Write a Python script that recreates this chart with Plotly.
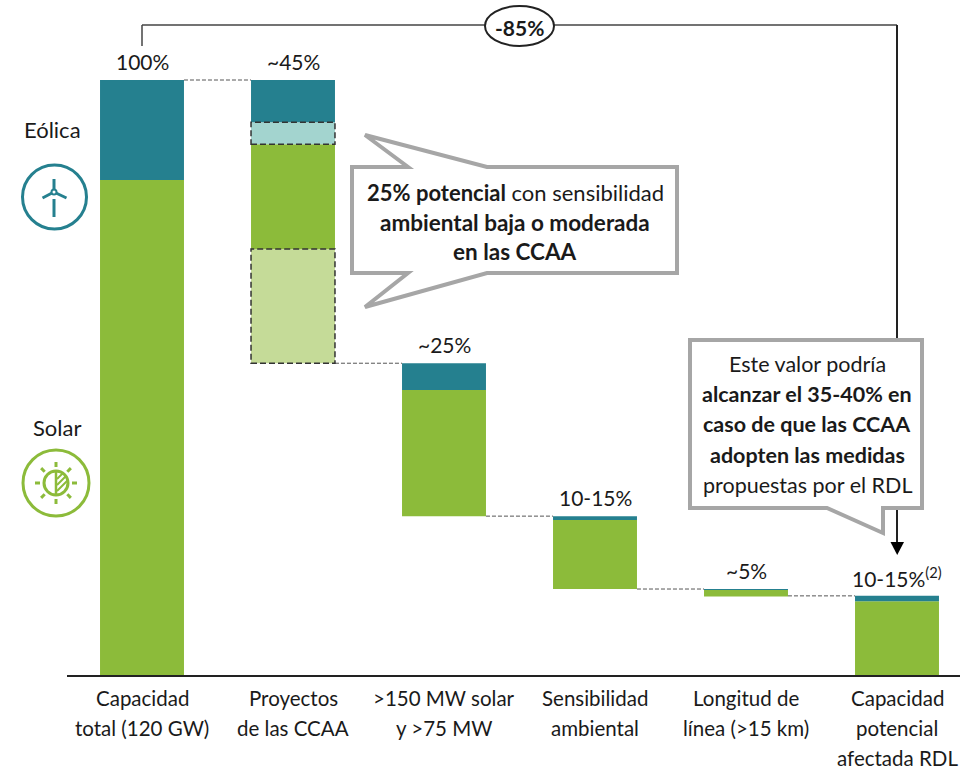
import math
import numpy as np
import plotly.graph_objects as go

# --- data (percent of total capacity) ---
categories = [
    ["Capacidad", "total (120 GW)"],
    ["Proyectos", "de las CCAA"],
    [">150 MW solar", "y >75 MW"],
    ["Sensibilidad", "ambiental"],
    ["Longitud de", "línea (>15 km)"],
    ["Capacidad", "potencial", "afectada RDL"],
]
value_labels = ["100%", "~45%", "~25%", "10-15%", "~5%", "10-15%<sup>(2)</sup>"]
bottoms = [0, 52.4, 26.7, 14.45, 13.2, 0]
solar_excluded = [0, 19.2, 0, 0, 0, 0]
solar = [83.2, 17.6, 21.2, 11.6, 1.1, 12.4]
wind_excluded = [0, 3.7, 0, 0, 0, 0]
wind = [16.8, 7.1, 4.5, 0.65, 0.15, 0.9]

TEAL = "#25808F"
GREEN = "#8CBB3A"
LIGHT_TEAL = "#A3D4CF"
LIGHT_GREEN = "#C5DB98"
GREY = "#A6A6A6"
TEXT = "#1A1A1A"
FONT = "Lato"
BAR_WIDTH = 0.556

# plot area in pixels
LEFT, RIGHT, BASE = 67, 960, 675


def X(px):
    return (px - LEFT) / (RIGHT - LEFT)


def Y(py):
    return 1 - py / BASE


segments = [
    ("Solar descartada", solar_excluded, LIGHT_GREEN),
    ("Solar", solar, GREEN),
    ("Eólica descartada", wind_excluded, LIGHT_TEAL),
    ("Eólica", wind, TEAL),
]

fig = go.Figure()
x_pos = np.arange(len(categories))
level = np.array(bottoms, dtype=float)
edges = {}
for name, vals, col in segments:
    vals = np.array(vals, dtype=float)
    fig.add_trace(go.Bar(x=x_pos, y=vals, base=level, name=name, width=BAR_WIDTH,
                         marker=dict(color=col, line=dict(width=0)), showlegend=False))
    edges[name] = (level.copy(), (level + vals).copy())
    level = level + vals
tops = level

shapes = []
annotations = []


def line(x0, y0, x1, y1, col, w=1.5, dash="solid"):
    shapes.append(dict(type="line", xref="paper", yref="paper", x0=X(x0), y0=Y(y0), x1=X(x1), y1=Y(y1),
                       line=dict(color=col, width=w, dash=dash), layer="above"))


def poly(points, stroke=None, fill="rgba(0,0,0,0)", w=4):
    path = "M " + " L ".join(f"{X(a):.5f},{Y(b):.5f}" for a, b in points) + " Z"
    shapes.append(dict(type="path", xref="paper", yref="paper", path=path, fillcolor=fill,
                       line=dict(color=stroke or fill, width=w if stroke else 0), layer="above"))


def circle(cx, cy, r, col, w=3, fill="rgba(0,0,0,0)"):
    shapes.append(dict(type="circle", xref="paper", yref="paper", x0=X(cx - r), x1=X(cx + r),
                       y0=Y(cy - r), y1=Y(cy + r), line=dict(color=col, width=w), fillcolor=fill, layer="above"))


def label(px, py, text, size=22, col=TEXT):
    annotations.append(dict(xref="paper", yref="paper", x=X(px), y=Y(py), text=text, showarrow=False,
                            xanchor="center", yanchor="middle", font=dict(family=FONT, size=size, color=col)))


# connectors between bars
for i in range(len(categories) - 1):
    shapes.append(dict(type="line", xref="x", yref="y", x0=i + BAR_WIDTH / 2, x1=i + 1 - BAR_WIDTH / 2,
                       y0=tops[i + 1], y1=tops[i + 1], line=dict(color="#555555", width=1, dash="4px,2px")))

# dashed outlines of the two discarded blocks
for name in ("Solar descartada", "Eólica descartada"):
    lo, hi = edges[name]
    shapes.append(dict(type="rect", xref="x", yref="y", x0=1 - BAR_WIDTH / 2, x1=1 + BAR_WIDTH / 2,
                       y0=lo[1], y1=hi[1], line=dict(color="#333333", width=1.5, dash="6px,3px"), layer="above"))

# value labels above each bar
for i, txt in enumerate(value_labels):
    annotations.append(dict(x=i, y=tops[i], xref="x", yref="y", text=txt, showarrow=False, yshift=19,
                            xanchor="center", yanchor="middle", font=dict(family=FONT, size=21, color=TEXT)))

# category labels, one annotation per line to keep the wide leading
for i, lines in enumerate(categories):
    for j, txt in enumerate(lines):
        annotations.append(dict(x=i, y=Y(698 + 30 * j), xref="x", yref="paper", text=txt, showarrow=False,
                                xanchor="center", yanchor="middle", font=dict(family=FONT, size=20.5, color=TEXT)))

# -85% bracket
line(142, 46, 142, 25, "#444444")
line(142, 25, 897, 25, "#444444")
line(897, 25, 897, 544, "#222222", 2)
poly([(890.5, 542), (904, 542), (897.2, 555)], fill="#000000")
circle(519.5, 26, 0, "#222222", 0)
shapes[-1].update(x0=X(485), x1=X(554), y0=Y(6), y1=Y(46), fillcolor="white",
                  line=dict(color="#222222", width=2))
label(519.5, 27, "<b>-85%</b>", 21)

# callout: 25% potencial
poly([(352, 167), (408, 167), (365, 135), (487, 167), (677, 167), (677, 273), (487, 273),
      (365, 307), (408, 273), (352, 273)], stroke=GREY, fill="white")
label(515, 192, "<b>25% potencial</b> con sensibilidad", 22)
label(515, 222, "<b>ambiental baja o moderada</b>", 22.5)
label(515, 252, "<b>en las CCAA</b>", 22.5)

# callout: 35-40%
poly([(690, 340), (922, 340), (922, 508), (883, 508), (883, 533), (827, 508), (690, 508)],
     stroke=GREY, fill="white")
label(807, 364, "Este valor podría", 21.5)
label(807, 394, "<b>alcanzar el 35-40% en</b>", 21.5)
label(807, 424, "<b>caso de que las CCAA</b>", 21.5)
label(807, 455, "<b>adopten las medidas</b>", 21.5)
label(807, 485, "propuestas por el RDL", 21.5)

# left side: wind icon
label(52, 129, "Eólica", 22)
circle(54.5, 197, 32, TEAL)
circle(54, 192, 2.5, TEAL, 2)
line(54, 189, 54, 179, TEAL, 3)
line(52, 193, 42.5, 198, TEAL, 3)
line(56, 193, 66.5, 198, TEAL, 3)
line(54, 199, 54, 217, TEAL, 3)

# left side: solar icon
label(57, 427, "Solar", 22)
cx, cy = 56, 483
circle(cx, cy, 33, GREEN)
circle(cx, cy, 12, GREEN)
line(cx, cy - 12, cx, cy + 12, GREEN, 2.5)
for k in range(8):
    ang = k * math.pi / 4
    line(cx + 16 * math.cos(ang), cy + 16 * math.sin(ang), cx + 21 * math.cos(ang), cy + 21 * math.sin(ang), GREEN, 3)
line(cx + 1, cy - 4, cx + 7, cy - 10, GREEN, 2)
line(cx + 1, cy + 2, cx + 10, cy - 7, GREEN, 2)
line(cx + 1, cy + 8, cx + 11, cy - 2, GREEN, 2)

fig.update_layout(
    width=964,
    height=767,
    margin=dict(l=LEFT, r=964 - RIGHT, t=0, b=767 - BASE, pad=0),
    paper_bgcolor="white",
    plot_bgcolor="white",
    barmode="overlay",
    shapes=shapes,
    annotations=annotations,
    xaxis=dict(range=[(LEFT - 142) / 151, (RIGHT - 142) / 151], tickvals=[], showgrid=False, zeroline=False,
               showline=True, linecolor="#222222", linewidth=1.5),
    yaxis=dict(range=[0, BASE / 5.95], showticklabels=False, ticks="", showgrid=False, zeroline=False, showline=False),
)
# drop the page's default body margin so the figure sits at the window corner
fig.write_html("out.html", config={"displayModeBar": False},
               post_script="document.body.style.margin='0';document.body.style.overflow='hidden';")
